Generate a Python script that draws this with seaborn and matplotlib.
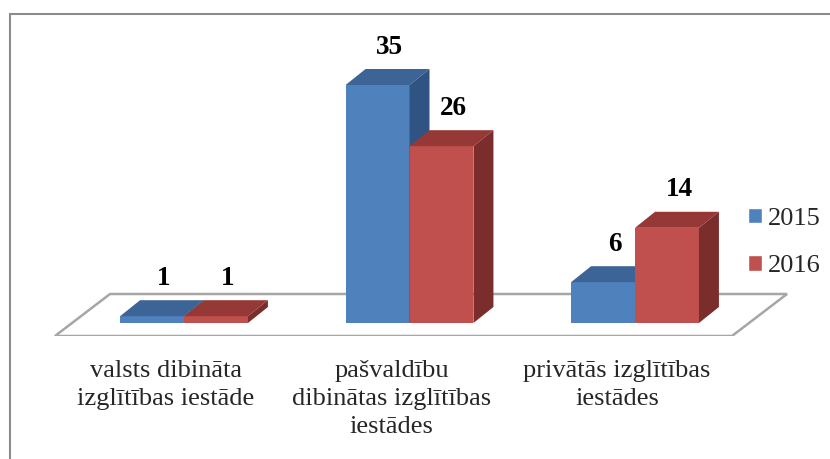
import numpy as np
import pandas as pd
import matplotlib
matplotlib.use("Agg")
import matplotlib.pyplot as plt
import matplotlib.transforms as mtransforms
from matplotlib.patches import Polygon, Patch
from matplotlib.lines import Line2D
import seaborn as sns

# ---- data ----
categories = ["valsts dibināta\nizglītības iestāde",
              "pašvaldību\ndibinātas izglītības\niestādes",
              "privātās izglītības\niestādes"]
years = ["2015", "2016"]
values_2015 = [1, 35, 6]
values_2016 = [1, 26, 14]

df = pd.DataFrame({
    "category": categories * 2,
    "year": [years[0]] * len(categories) + [years[1]] * len(categories),
    "value": values_2015 + values_2016,
})

sns.set_style("white")
plt.rcParams["font.family"] = ["Liberation Serif", "DejaVu Serif"]

W, H = 830, 459
fig = plt.figure(figsize=(W / 100, H / 100), dpi=100)


def fx(px):
    return px / W


def fy(py):
    return 1 - py / H


AX_BOTTOM_PX, AX_TOP_PX = 336, 14
ax = fig.add_axes([0, fy(AX_BOTTOM_PX), 1, (AX_BOTTOM_PX - AX_TOP_PX) / H])
ax.patch.set_alpha(0)

front = {"2015": "#4F81BD", "2016": "#C0504D"}
top_c = {"2015": "#3C6496", "2016": "#953836"}
side_c = {"2015": "#2F5483", "2016": "#7B2D2B"}

sns.barplot(data=df, x="category", y="value", hue="year", order=categories,
            hue_order=years, palette=front, saturation=1, width=0.567,
            legend=False, ax=ax, linewidth=0)

# pixel scale
X0_PX, XS = 184.0, 225.5      # px of first category, px per category
BASE_PX, YS = 323.0, 6.8      # px of bar base, px per unit
ax.set_xlim(-X0_PX / XS, (W - X0_PX) / XS)
ax.set_ylim((BASE_PX - AX_BOTTOM_PX) / YS, (BASE_PX - AX_TOP_PX) / YS)

ddx = 20 / XS
ddy = 16 / YS


def px2data(px, py):
    return ((px - X0_PX) / XS, (BASE_PX - py) / YS)


# floor
floor = Polygon([px2data(55, 336), px2data(732, 336), px2data(787, 294), px2data(110, 294)],
                closed=True, facecolor="white", edgecolor="#a6a6a6", lw=1.8, zorder=1)
ax.add_patch(floor)

# 3D faces
for i, (cont, yr) in enumerate(zip(ax.containers, years)):
    z = 3 + i
    for bar in cont:
        x0 = bar.get_x()
        w = bar.get_width()
        h = bar.get_height()
        bar.set_zorder(z)
        ax.add_patch(Polygon([(x0, h), (x0 + w, h), (x0 + w + ddx, h + ddy), (x0 + ddx, h + ddy)],
                             closed=True, facecolor=top_c[yr], lw=0, zorder=z))
        ax.add_patch(Polygon([(x0 + w, 0), (x0 + w + ddx, ddy), (x0 + w + ddx, h + ddy), (x0 + w, h)],
                             closed=True, facecolor=side_c[yr], lw=0, zorder=z))
        ax.annotate(f"{int(round(h))}", (x0 + w / 2, h), xytext=(12, 38),
                    textcoords="offset pixels", ha="center", va="center",
                    fontsize=19.5, fontweight="bold", color="black", zorder=6)

# axes styling
for s in ax.spines.values():
    s.set_visible(False)
ax.set_yticks([])
ax.set_xlabel("")
ax.set_ylabel("")
ax.tick_params(axis="x", length=0, pad=17)
ax.set_xticks(range(len(categories)))
ax.set_xticklabels(categories, fontsize=19, linespacing=1.37)
shift = mtransforms.ScaledTranslation(-18 / 100, 0, fig.dpi_scale_trans)
for lbl in ax.get_xticklabels():
    lbl.set_transform(lbl.get_transform() + shift)

# legend
ax.legend(handles=[Patch(facecolor=front[y], label=y) for y in years],
          loc="upper left", bbox_to_anchor=(fx(748), fy(208)),
          bbox_transform=fig.transFigure, frameon=False, fontsize=19,
          handlelength=0.52, handleheight=0.52, handletextpad=0.22,
          labelspacing=0.95, borderaxespad=0, borderpad=0)

# outer border
fig.add_artist(Line2D([fx(9.5), fx(9.5)], [fy(459), fy(14)], color="#8c8c8c", lw=1.5,
                      transform=fig.transFigure))
fig.add_artist(Line2D([fx(9.5), fx(830)], [fy(14), fy(14)], color="#8c8c8c", lw=1.5,
                      transform=fig.transFigure))

fig.savefig("out.png", dpi=100)
